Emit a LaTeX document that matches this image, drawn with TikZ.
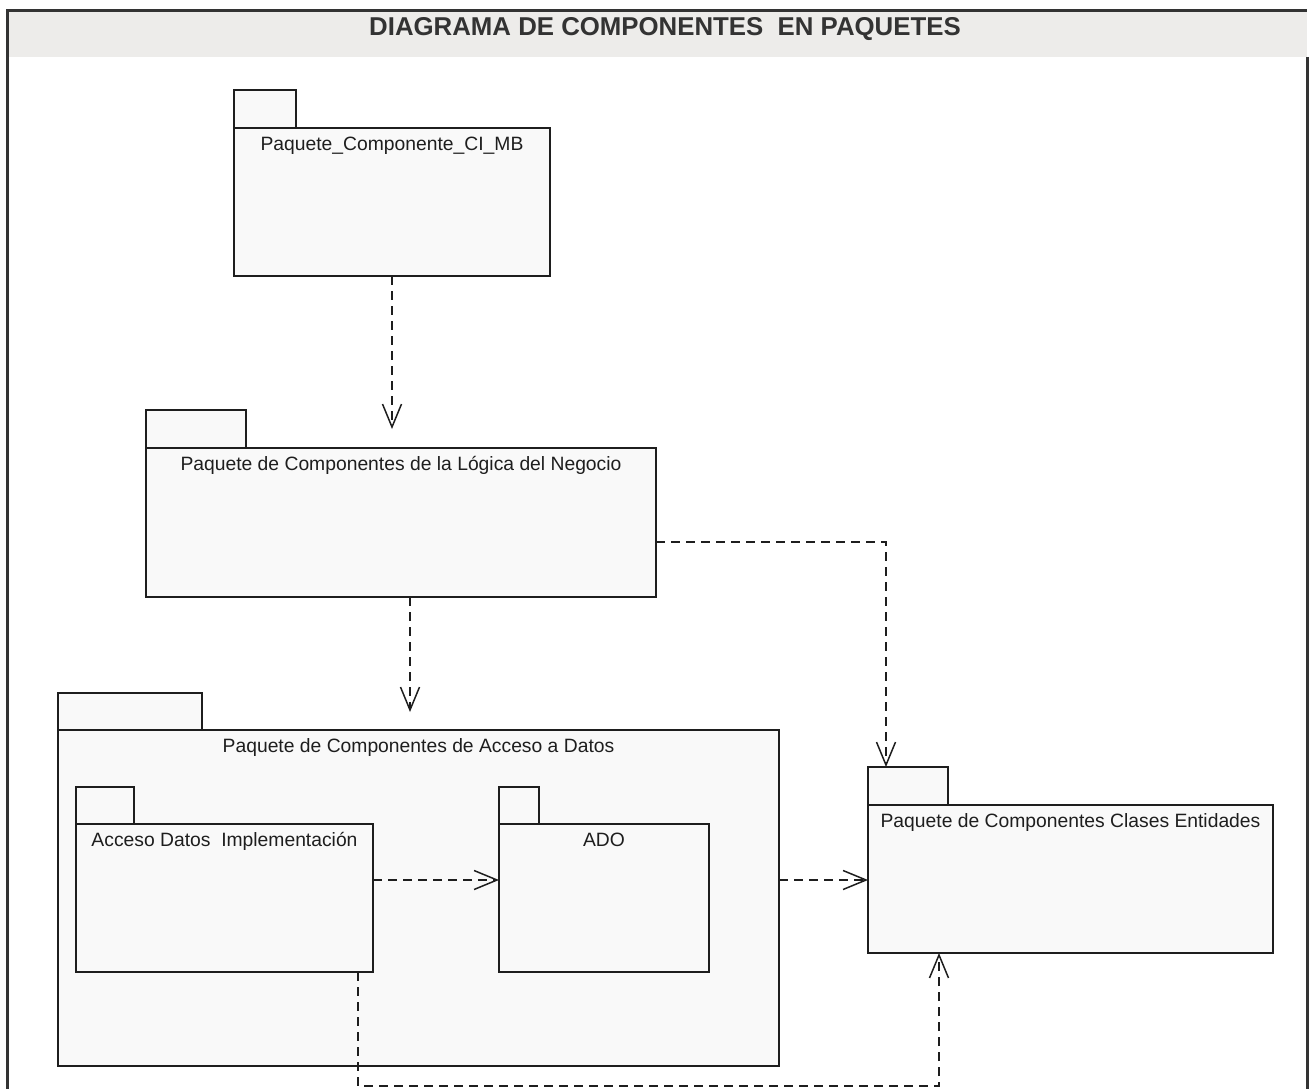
\documentclass[tikz,border=0pt]{standalone}
\usepackage{fontspec}
\setmainfont{Liberation Sans}
\usetikzlibrary{arrows.meta}

\definecolor{ink}{HTML}{1E1E1E}
\definecolor{framegray}{HTML}{333333}
\definecolor{band}{HTML}{EDECEA}
\definecolor{pkgfill}{HTML}{F9F9F9}

\tikzset{
  pkgbody/.style={draw=ink, fill=pkgfill, line width=1.6pt, inner sep=0pt,
                  outer sep=0pt, anchor=north west},
  pkgtab/.style={pkgbody, anchor=south west},
  pkglabel/.style={anchor=base, inner sep=0pt, text=ink,
                   font=\fontsize{19.3}{22}\selectfont},
  titletext/.style={anchor=base, inner sep=0pt, text=framegray,
                    font=\fontsize{25.8}{30}\selectfont\bfseries},
  dep/.style={draw=ink, line width=1.5pt, dash pattern=on 9pt off 6pt,
              -{Straight Barb[length=23pt,width=19pt,line width=1.5pt]}},
}

\begin{document}
\begin{tikzpicture}[x=1pt,y=-1pt]
\useasboundingbox (0,0) rectangle (1312,1089);

% frame and title band
\fill[band] (7,11) rectangle (1307,57);
\draw[framegray, line width=3pt] (7,1100) -- (7,11) -- (1307,11);
\draw[framegray, line width=3pt] (1307,57) -- (1307,1100);
\node[titletext] (title) at (665,36) {DIAGRAMA DE COMPONENTES~ EN PAQUETES};

% Paquete_Componente_CI_MB
\node[pkgtab, minimum width=62pt, minimum height=38pt] (p1tab) at (234,128) {};
\node[pkgbody, minimum width=316pt, minimum height=148pt] (p1) at (234,128) {};
\node[pkglabel] (p1lbl) at ([yshift=-22.5pt]p1.north) {Paquete\_Componente\_CI\_MB};

% business logic package
\node[pkgtab, minimum width=100pt, minimum height=38pt] (p2tab) at (146,448) {};
\node[pkgbody, minimum width=510pt, minimum height=149pt] (p2) at (146,448) {};
\node[pkglabel] (p2lbl) at ([yshift=-22.5pt]p2.north) {Paquete de Componentes de la Lógica del Negocio};

% data access package
\node[pkgtab, minimum width=144pt, minimum height=37pt] (p3tab) at (58,730) {};
\node[pkgbody, minimum width=721pt, minimum height=336pt] (p3) at (58,730) {};
\node[pkglabel] (p3lbl) at ([yshift=-22.5pt]p3.north) {Paquete de Componentes de Acceso a Datos};

% nested: implementation
\node[pkgtab, minimum width=58pt, minimum height=37pt] (p3atab) at (76,824) {};
\node[pkgbody, minimum width=297pt, minimum height=148pt] (p3a) at (76,824) {};
\node[pkglabel] (p3albl) at ([yshift=-22.5pt]p3a.north) {Acceso Datos~ Implementación};

% nested: ADO
\node[pkgtab, minimum width=40pt, minimum height=37pt] (adotab) at (499,824) {};
\node[pkgbody, minimum width=210pt, minimum height=148pt] (ado) at (499,824) {};
\node[pkglabel] (adolbl) at ([yshift=-22.5pt]ado.north) {ADO};

% entity classes package
\node[pkgtab, minimum width=80pt, minimum height=38pt] (p5tab) at (868,805) {};
\node[pkgbody, minimum width=405pt, minimum height=148pt] (p5) at (868,805) {};
\node[pkglabel] (p5lbl) at ([yshift=-22.5pt]p5.north) {Paquete de Componentes Clases Entidades};

% dependency end points and bends
\coordinate (d1end) at (392,429);
\coordinate (d2end) at (410,712);
\coordinate (d3bend) at (886,542);
\coordinate (row) at (0,880);
\coordinate (d6a) at (358,1086);
\coordinate (d6b) at (939,1086);

% dependencies
\draw[dep] (p1.south -| d1end) -- (d1end);
\draw[dep] (p2.south -| d2end) -- (d2end);
\draw[dep] (p2.east |- d3bend) -- (d3bend) -- (d3bend |- p5tab.north);
\draw[dep] (p3a.east |- row) -- (ado.west |- row);
\draw[dep] (p3.east |- row) -- (p5.west |- row);
\draw[dep] (p3a.south -| d6a) -- (d6a) -- (d6b) -- (d6b |- p5.south);
\end{tikzpicture}
\end{document}
